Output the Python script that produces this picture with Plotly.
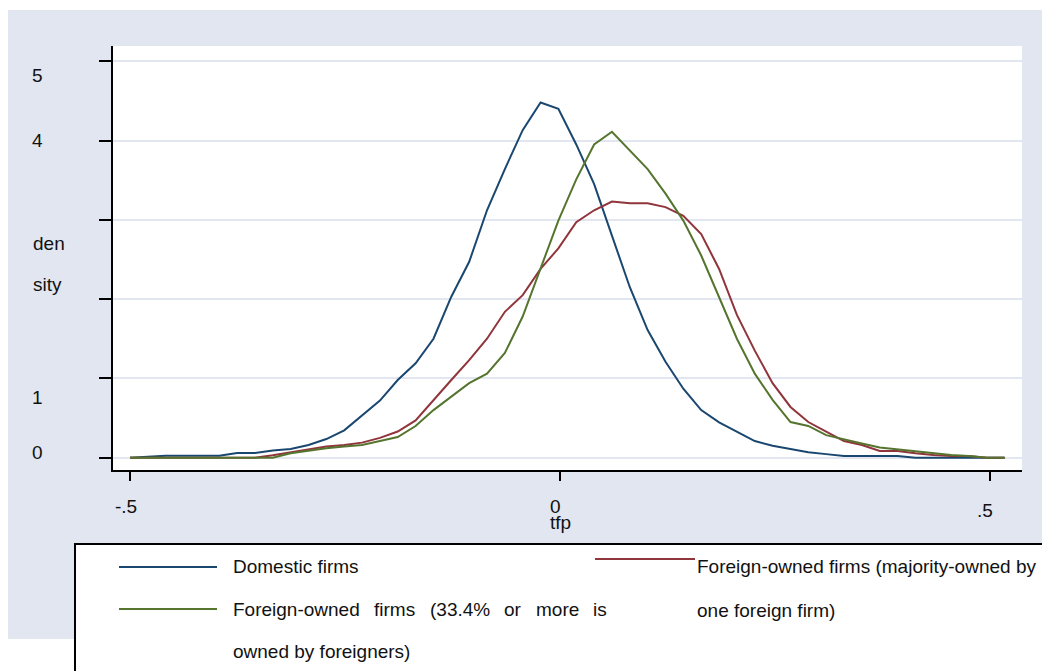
import plotly.graph_objects as go

# ---------------- data ----------------
tfp = [-0.5, -0.4792, -0.4585, -0.4377, -0.4170, -0.3962, -0.3755, -0.3547, -0.3340, -0.3132,
       -0.2924, -0.2717, -0.2509, -0.2302, -0.2094, -0.1887, -0.1679, -0.1471, -0.1264, -0.1056,
       -0.0849, -0.0641, -0.0434, -0.0226, -0.0019, 0.0189, 0.0397, 0.0604, 0.0812, 0.1019,
       0.1227, 0.1434, 0.1642, 0.1850, 0.2057, 0.2265, 0.2472, 0.2680, 0.2887, 0.3095,
       0.3302, 0.3510, 0.3718, 0.3925, 0.4133, 0.4340, 0.4548, 0.4755, 0.4963, 0.5170]

domestic = [0, 0.01, 0.025, 0.025, 0.025, 0.025, 0.06, 0.06, 0.09, 0.11,
            0.16, 0.235, 0.345, 0.53, 0.72, 0.98, 1.19, 1.50, 2.03, 2.47,
            3.12, 3.64, 4.13, 4.48, 4.40, 3.95, 3.45, 2.80, 2.15, 1.61,
            1.21, 0.87, 0.60, 0.445, 0.33, 0.21, 0.15, 0.105, 0.07, 0.045,
            0.02, 0.02, 0.02, 0.02, 0, 0, 0, 0, 0, 0]

foreign_majority = [0, 0, 0, 0, 0, 0, 0, 0, 0.03, 0.065,
                    0.105, 0.14, 0.16, 0.19, 0.25, 0.33, 0.47, 0.73, 0.98, 1.23,
                    1.50, 1.84, 2.05, 2.38, 2.64, 2.97, 3.12, 3.23, 3.21, 3.21,
                    3.16, 3.05, 2.82, 2.38, 1.80, 1.35, 0.94, 0.64, 0.45, 0.33,
                    0.21, 0.16, 0.085, 0.085, 0.055, 0.035, 0.02, 0.02, 0, 0]

foreign_334 = [0, 0, 0, 0, 0, 0, 0, 0, 0, 0.055,
               0.09, 0.12, 0.14, 0.16, 0.21, 0.26, 0.40, 0.60, 0.77, 0.94,
               1.06, 1.32, 1.78, 2.40, 2.99, 3.51, 3.95, 4.11, 3.88, 3.64,
               3.33, 2.99, 2.55, 2.03, 1.50, 1.06, 0.73, 0.45, 0.40, 0.285,
               0.23, 0.18, 0.13, 0.105, 0.085, 0.063, 0.035, 0.02, 0, 0]

series_names = ["Domestic firms",
                "Foreign-owned firms (majority-owned by one foreign firm)",
                "Foreign-owned firms (33.4% or more is owned by foreigners)"]
x_ticks = [-0.5, 0, 0.5]
x_tick_labels = ["-.5", "0", ".5"]
y_ticks = [0, 1, 2, 3, 4, 5]

# ---------------- style ----------------
OFF = 8                      # page body margin
W, H = 1042, 663             # figure size (page 1050x671 minus body margin)
ML, MR, MT, MB = 105, 28, 38, 201
PW, PH = W - ML - MR, H - MT - MB
BG = "#e1e6f0"
NAVY, MAROON, GREEN = "#1a476f", "#90353b", "#55752f"
FONT = "Liberation Sans, Arial, sans-serif"
FS = 19


def px(x):  # page pixel -> paper
    return (x - OFF - ML) / PW


def py(y):  # page pixel -> paper
    return (H - MB - (y - OFF)) / PH


fig = go.Figure()
for ys, col, nm in [(domestic, NAVY, series_names[0]),
                    (foreign_majority, MAROON, series_names[1]),
                    (foreign_334, GREEN, series_names[2])]:
    fig.add_trace(go.Scatter(x=tfp, y=ys, mode="lines", name=nm,
                             line=dict(color=col, width=2), showlegend=False,
                             hoverinfo="skip"))

# x range: -0.5 at page pixel 130, 860 px per unit
x0 = -0.5 - (130 - OFF - ML) / 860.0
x1 = x0 + PW / 860.0
# y range: 0 at page pixel 457.7, 79.3 px per unit
y0 = -((H - MB) - (457.7 - OFF)) / 79.3
y1 = y0 + PH / 79.3

fig.update_xaxes(range=[x0, x1], tickvals=x_ticks, showticklabels=False,
                 ticks="outside", ticklen=9, tickwidth=2, tickcolor="black",
                 showline=True, linecolor="black", linewidth=2,
                 showgrid=False, zeroline=False, fixedrange=True)
fig.update_yaxes(range=[y0, y1], tickvals=y_ticks, showticklabels=False,
                 ticks="outside", ticklen=12, tickwidth=2, tickcolor="black",
                 showline=True, linecolor="black", linewidth=2,
                 showgrid=True, gridcolor=BG, gridwidth=2,
                 zeroline=False, fixedrange=True)

shapes = []
# white strips around the light-blue graph region
shapes.append(dict(type="rect", xref="paper", yref="paper", layer="below",
                   x0=px(-5), x1=px(W + 20), y0=py(-5), y1=py(10),
                   fillcolor="white", line=dict(width=0)))
shapes.append(dict(type="rect", xref="paper", yref="paper", layer="below",
                   x0=px(-5), x1=px(80), y0=py(639), y1=py(H + 30),
                   fillcolor="white", line=dict(width=0)))
# legend box
shapes.append(dict(type="rect", xref="paper", yref="paper", layer="above",
                   x0=px(75), x1=px(1045), y0=py(544), y1=py(H + 40),
                   fillcolor="white", line=dict(color="black", width=2)))
# legend keys
for (a, b, yy, col) in [(119, 217, 567, NAVY), (119, 217, 609, GREEN), (595, 695, 559, MAROON)]:
    shapes.append(dict(type="line", xref="paper", yref="paper", layer="above",
                       x0=px(a), x1=px(b), y0=py(yy), y1=py(yy),
                       line=dict(color=col, width=2)))

ann = []


def add_text(t, x, y, xanchor="center", size=FS):
    ann.append(dict(text=t, x=px(x), y=py(y), xref="paper", yref="paper",
                    xanchor=xanchor, yanchor="middle", showarrow=False,
                    font=dict(family=FONT, size=size, color="#111111")))


# y-axis labels (as in the reference)
add_text("5", 37.5, 75.7)
add_text("4", 37.5, 140.5)
add_text("den", 31, 244, "left")
add_text("sity", 31, 284, "left")
add_text("1", 37.5, 397)
add_text("0", 37.5, 452.5)
# x-axis labels
add_text(x_tick_labels[0], 125.5, 506.5)
add_text(x_tick_labels[1], 555, 506)
add_text(x_tick_labels[2], 985, 510.5)
add_text("tfp", 560.5, 522)
# legend texts
add_text("Domestic firms", 231, 566.5, "left")
for word, xw in [("Foreign-owned", 231), ("firms", 372), ("(33.4%", 428),
                 ("or", 502), ("more", 534), ("is", 591)]:
    add_text(word, xw, 609.5, "left")
add_text("owned by foreigners)", 231, 651.5, "left")
add_text("Foreign-owned firms (majority-owned by", 695, 566.5, "left")
add_text("one foreign firm)", 695, 610, "left")

fig.update_layout(width=W, height=H, autosize=False,
                  margin=dict(l=ML, r=MR, t=MT, b=MB, pad=0),
                  paper_bgcolor=BG, plot_bgcolor="white",
                  shapes=shapes, annotations=ann, showlegend=False)

fig.write_html("out.html")
